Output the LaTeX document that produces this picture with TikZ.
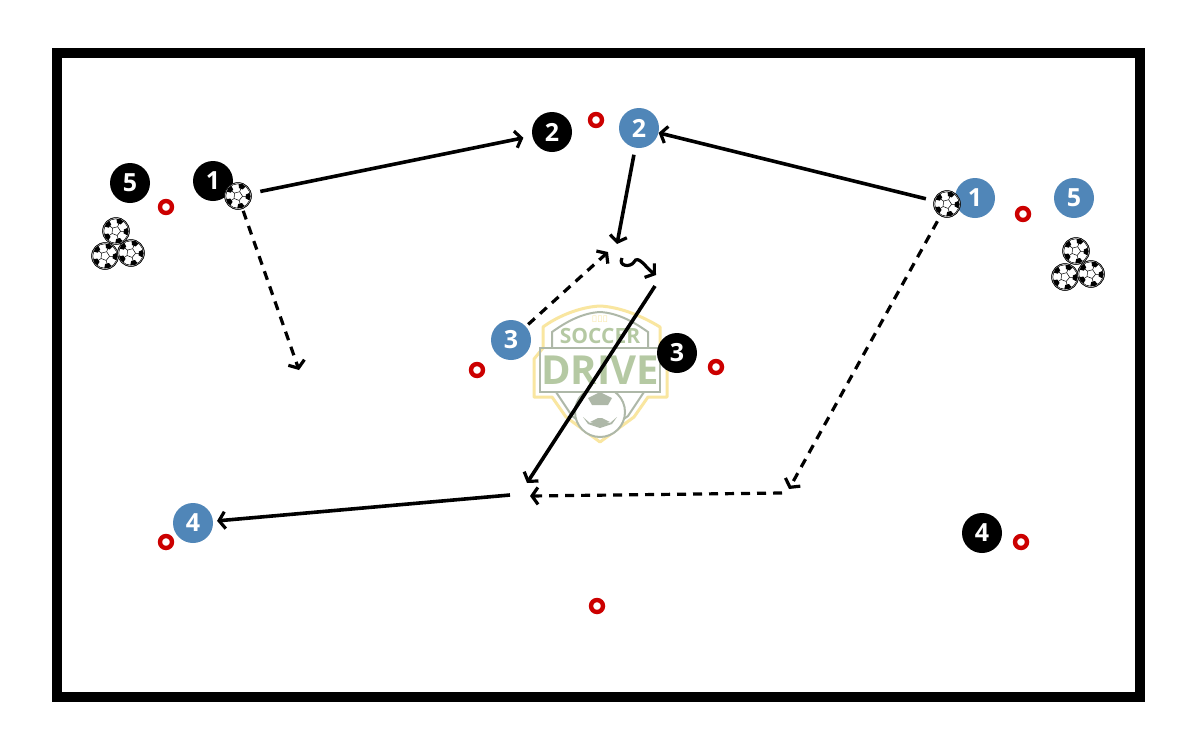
\documentclass[tikz,border=0pt]{standalone}
\usepackage{fontspec}
\setmainfont{Open Sans}
\usetikzlibrary{arrows.meta}
\definecolor{pblue}{HTML}{5086B8}
\definecolor{conered}{HTML}{CC0000}
\definecolor{logoy}{HTML}{F9E6A0}
\definecolor{logog}{HTML}{B5C9A3}
\definecolor{logod}{HTML}{AEB8A8}
\tikzset{
  x=1pt,y=-1pt,
  player/.style={circle,minimum size=40pt,inner sep=0pt,text=white,font=\fontsize{25}{25}\selectfont\bfseries},
  blackp/.style={player,fill=black},
  bluep/.style={player,fill=pblue},
  cone/.style={circle,draw=conered,fill=white,line width=4.4pt,minimum size=12pt,inner sep=0pt},
  ballnode/.style={circle,draw=black,fill=white,line width=.5pt,minimum size=27pt,inner sep=0pt},
  tip/.style={-{Straight Barb[length=6pt,width=17pt,line width=3.2pt]}},
  pass/.style={line width=3.6pt,black,tip},
  run/.style={line width=3.2pt,black,tip,dash pattern=on 9pt off 7pt},
  mark/.style={},
  pics/sball/.style={code={
    \draw[line width=.5pt] (0,0) circle (12.2);
    \draw[line width=.5pt] (0,0) circle (13.2);
    \begin{scope}[rotate=15]
    \foreach \a in {90,162,234,306,378}{
      \draw[line width=.5pt] (\a:4.6) -- (\a:8);
      \fill[black] ({\a-14}:8) -- ({\a+14}:8) -- ({\a+18}:11.8) -- (\a:12.6) -- ({\a-18}:11.8) -- cycle;
      \draw[line width=.5pt] (\a:4.6) -- ({\a+72}:4.6);
    }
    \end{scope}
  }},
}
\newcommand{\ballat}[2]{\node[ballnode] (#1) at (#2) {}; \pic at (#1) {sball};}
\begin{document}
\begin{tikzpicture}
\useasboundingbox (0,0) rectangle (1200,750);
\fill[white] (0,0) rectangle (1200,750);
\draw[line width=10pt,black] (57,53) rectangle (1140,697);

% logo
\draw[logoy,line width=3pt,fill=white,line join=round] (600,306) .. controls (580,307) and (558,316) .. (543,327) -- (543,348) -- (534,359) -- (534,397) -- (552,397) -- (566,417) -- (600,442) -- (634,417) -- (648,397) -- (667,397) -- (667,359) -- (660,348) -- (660,327) .. controls (642,316) and (620,307) .. (600,306) -- cycle;
\draw[logod,line width=2pt] (552,348) -- (552,332) .. controls (566,322) and (582,313) .. (600,312) .. controls (618,313) and (634,322) .. (648,332) -- (648,348);
\draw[logod,line width=2pt] (540,348) rectangle (660,392);
\draw[logod,line width=2pt] (556,392) -- (572,416) -- (600,436) -- (628,416) -- (644,392);
\draw[logod,line width=1.5pt] (600,427) circle (0);
\draw[logod,line width=2pt,fill=white] (600,412) circle (25);
\fill[logod] (600,392) -- (612,398) -- (608,405) -- (592,405) -- (588,398) -- cycle;
\fill[logod] (590,422) -- (610,422) -- (602,418) -- (598,418) -- cycle;
\fill[logod] (583,417) -- (590,423) -- (600,420) -- (610,423) -- (617,417) -- (612,424) -- (600,428) -- (588,424) -- cycle;
\fill[white] (540,381) rectangle (660,393);
\draw[logod,line width=2pt] (540,348) rectangle (660,392);
\node[inner sep=0pt,text=logog] (logoA) at (600,336) {\fontsize{21}{21}\selectfont\bfseries SOCCER};
\node[inner sep=0pt,text=logog] (logoB) at (600,370) {\fontsize{40}{40}\selectfont\bfseries DRIVE};
\node[inner sep=0pt,text=logoy] (logoC) at (600,319) {\fontsize{9}{9}\selectfont★★★};

% cones
\node[cone] (c1) at (166,207) {};
\node[cone] (c2) at (596,120) {};
\node[cone] (c3) at (1023,214) {};
\node[cone] (c4) at (477,370) {};
\node[cone] (c5) at (716,367) {};
\node[cone] (c6) at (166,542) {};
\node[cone] (c7) at (1021,542) {};
\node[cone] (c8) at (597,606) {};

% players
\node[blackp] (k5) at (130,183) {5};
\node[blackp] (k1) at (213,181) {1};
\node[blackp] (k2) at (552,132) {2};
\node[blackp] (k3) at (677,353) {3};
\node[blackp] (k4) at (982,533) {4};
\node[bluep] (u2) at (639,128) {2};
\node[bluep] (u1) at (975,198) {1};
\node[bluep] (u5) at (1074,198) {5};
\node[bluep] (u3) at (511,340) {3};
\node[bluep] (u4) at (193,523) {4};

% balls
\ballat{bL}{238,196}
\ballat{bR}{947,204}
\ballat{bl1}{116,231}
\ballat{bl2}{105,256}
\ballat{bl3}{131,253}
\ballat{br1}{1076,251}
\ballat{br2}{1065,277}
\ballat{br3}{1091,274}

% free ends
\coordinate (runL) at (299,370);
\coordinate (recv) at (617,244);
\coordinate (runU) at (608,252);
\coordinate (dribA) at (622,258);
\coordinate (dribB) at (656,275);
\coordinate (passA) at (655,286);
\coordinate (passB) at (527,483);
\coordinate (passC) at (510,495);
\coordinate (runRa) at (789,489);
\coordinate (runRb) at (530,496);
\coordinate (runRc) at (782,493);

% connectors
\draw[pass,shorten <=9pt,shorten >=9pt] (bL) -- (k2);
\draw[pass,shorten <=8pt] (bR) -- (u2);
\draw[pass,shorten <=7pt] (u2) -- (recv);
\draw[pass] (passA) -- (passB);
\draw[pass,shorten >=4pt] (passC) -- (u4);
\draw[run,shorten <=2pt] (bL) -- (runL);
\draw[run,shorten <=6pt] (bR) -- (runRa);
\draw[run] (runRc) -- (runRb);
\draw[run,shorten <=3pt] (u3) -- (runU);
\draw[line width=3.2pt,black,tip] (dribA) .. controls (618,266) and (630,268) .. (634,262) .. controls (638,254) and (646,268) .. (dribB);
\end{tikzpicture}
\end{document}
